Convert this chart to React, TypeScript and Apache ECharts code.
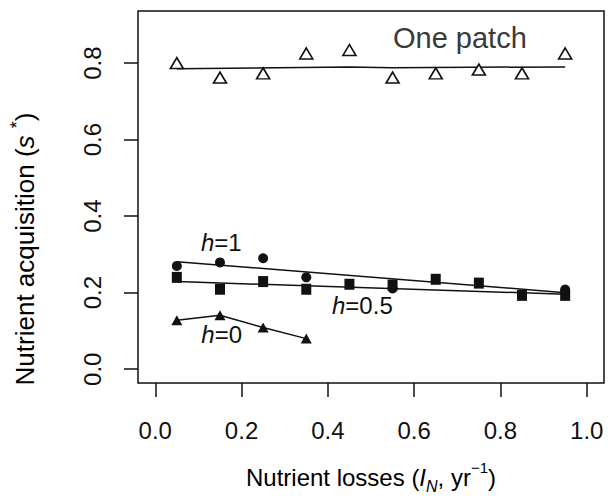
import React, { useEffect, useRef } from "react";
import * as echarts from "echarts";

const xValues = [0.05, 0.15, 0.25, 0.35, 0.45, 0.55, 0.65, 0.75, 0.85, 0.95];
const onePatchY = [0.8, 0.762, 0.773, 0.825, 0.834, 0.762, 0.773, 0.783, 0.773, 0.825];
const onePatchFit = [[0.05, 0.785], [0.45, 0.79], [0.55, 0.788], [0.95, 0.79]];
const h1X = [0.05, 0.15, 0.25, 0.35, 0.55, 0.95];
const h1Y = [0.27, 0.279, 0.29, 0.24, 0.211, 0.208];
const h1Fit = [[0.05, 0.281], [0.95, 0.2]];
const h05Y = [0.24, 0.209, 0.229, 0.209, 0.222, 0.22, 0.235, 0.225, 0.193, 0.193];
const h05Fit = [[0.05, 0.229], [0.95, 0.196]];
const h0X = [0.05, 0.15, 0.25, 0.35];
const h0Y = [0.128, 0.141, 0.109, 0.08];
const tickValues = [0, 0.2, 0.4, 0.6, 0.8, 1.0];
const yTickValues = [0, 0.2, 0.4, 0.6, 0.8];
const annotations = [
  { x: 0.153, y: 0.331, text: "{i|h}{n|=1}" },
  { x: 0.48, y: 0.1655, text: "{i|h}{n|=0.5}" },
  { x: 0.154, y: 0.0915, text: "{i|h}{n|=0}" },
  { x: 0.706, y: 0.866, text: "{g|One patch}" },
];

const FONT = "Liberation Sans, Arial, Helvetica, sans-serif";

export default function App() {
  const ref = useRef<HTMLDivElement>(null);
  useEffect(() => {
    if (!ref.current) return;
    const chart = echarts.init(ref.current, undefined, { renderer: "svg" });
    const richBase = {
      n: { fontFamily: FONT, fontSize: 24, color: "#111" },
      i: { fontFamily: FONT, fontSize: 24, fontStyle: "italic", color: "#111" },
      g: { fontFamily: FONT, fontSize: 29, color: "#3a3a3a" },
    };
    chart.setOption({
      animation: false,
      backgroundColor: "#fff",
      grid: {
        left: 138,
        top: 11,
        right: 4,
        bottom: 120,
        show: true,
        borderColor: "#111",
        borderWidth: 1.5,
        backgroundColor: "transparent",
      },
      xAxis: {
        type: "value",
        min: -0.04,
        max: 1.04,
        splitLine: { show: false },
        axisLine: { show: false, onZero: false },
        axisTick: {
          show: true,
          length: 14,
          customValues: tickValues,
          lineStyle: { color: "#111", width: 1.5 },
        },
        axisLabel: {
          customValues: tickValues,
          formatter: (v: number) => v.toFixed(1),
          fontFamily: FONT,
          fontSize: 24,
          color: "#111",
          margin: 35,
        },
      },
      yAxis: {
        type: "value",
        min: -0.036,
        max: 0.936,
        splitLine: { show: false },
        axisLine: { show: false, onZero: false },
        axisTick: {
          show: true,
          length: 14,
          customValues: yTickValues,
          lineStyle: { color: "#111", width: 1.5 },
        },
        axisLabel: {
          customValues: yTickValues,
          formatter: (v: number) => v.toFixed(1),
          fontFamily: FONT,
          fontSize: 24,
          color: "#111",
          margin: 34,
          rotate: 90,
        },
      },
      graphic: [
        {
          type: "text",
          x: 371,
          y: 477,
          style: {
            text: "{n|Nutrient losses (}{i|I}{sub|N}{n|, yr}{sup|−1}{n|)}",
            align: "center",
            verticalAlign: "middle",
            rich: {
              n: { fontFamily: FONT, fontSize: 24, color: "#111", lineHeight: 34, verticalAlign: "middle" },
              i: { fontFamily: FONT, fontSize: 24, fontStyle: "italic", color: "#111", lineHeight: 34, verticalAlign: "middle" },
              sub: { fontFamily: FONT, fontSize: 16, fontStyle: "italic", color: "#111", verticalAlign: "bottom", lineHeight: 16 },
              sup: { fontFamily: FONT, fontSize: 15, color: "#111", verticalAlign: "top", lineHeight: 15 },
            },
          },
        },
        {
          type: "text",
          x: 25,
          y: 249,
          rotation: Math.PI / 2,
          style: {
            text: "{n|Nutrient acquisition (}{i|s}{n| }{sup|*}{n|)}",
            align: "center",
            verticalAlign: "middle",
            rich: {
              n: { fontFamily: FONT, fontSize: 26, color: "#111", lineHeight: 34, verticalAlign: "middle" },
              i: { fontFamily: FONT, fontSize: 26, fontStyle: "italic", color: "#111", lineHeight: 34, verticalAlign: "middle" },
              sup: { fontFamily: FONT, fontSize: 18, color: "#111", verticalAlign: "top", lineHeight: 18 },
            },
          },
        },
      ],
      series: [
        {
          type: "line",
          data: onePatchFit,
          symbol: "none",
          lineStyle: { color: "#111", width: 1.5 },
          z: 2,
        },
        {
          type: "scatter",
          data: xValues.map((x, i) => [x, onePatchY[i]]),
          symbol: "triangle",
          symbolSize: [13, 11],
          itemStyle: { color: "#fff", borderColor: "#111", borderWidth: 1.6, opacity: 1 },
          z: 3,
        },
        {
          type: "line",
          data: h1Fit,
          symbol: "none",
          lineStyle: { color: "#111", width: 1.5 },
          z: 2,
        },
        {
          type: "line",
          data: h05Fit,
          symbol: "none",
          lineStyle: { color: "#111", width: 1.5 },
          z: 2,
        },
        {
          type: "scatter",
          data: h1X.map((x, i) => [x, h1Y[i]]),
          symbol: "circle",
          symbolSize: 10,
          itemStyle: { color: "#111", opacity: 1 },
          z: 3,
        },
        {
          type: "scatter",
          data: xValues.map((x, i) => [x, h05Y[i]]),
          symbol: "rect",
          symbolSize: [10, 11],
          itemStyle: { color: "#111", opacity: 1 },
          z: 4,
        },
        {
          type: "line",
          data: h0X.map((x, i) => [x, h0Y[i]]),
          symbol: "triangle",
          symbolSize: [11, 10],
          showSymbol: true,
          itemStyle: { color: "#111", opacity: 1 },
          lineStyle: { color: "#111", width: 1.5 },
          z: 3,
        },
        {
          type: "scatter",
          data: annotations.map((a) => [a.x, a.y]),
          symbolSize: 0,
          silent: true,
          itemStyle: { opacity: 1 },
          label: {
            show: true,
            position: "inside",
            formatter: (p: any) => annotations[p.dataIndex].text,
            rich: richBase,
          },
          z: 5,
        },
      ],
    });
    return () => chart.dispose();
  }, []);
  return <div ref={ref} style={{ width: 608, height: 503, position: "absolute", left: 0, top: 0 }} />;
}
